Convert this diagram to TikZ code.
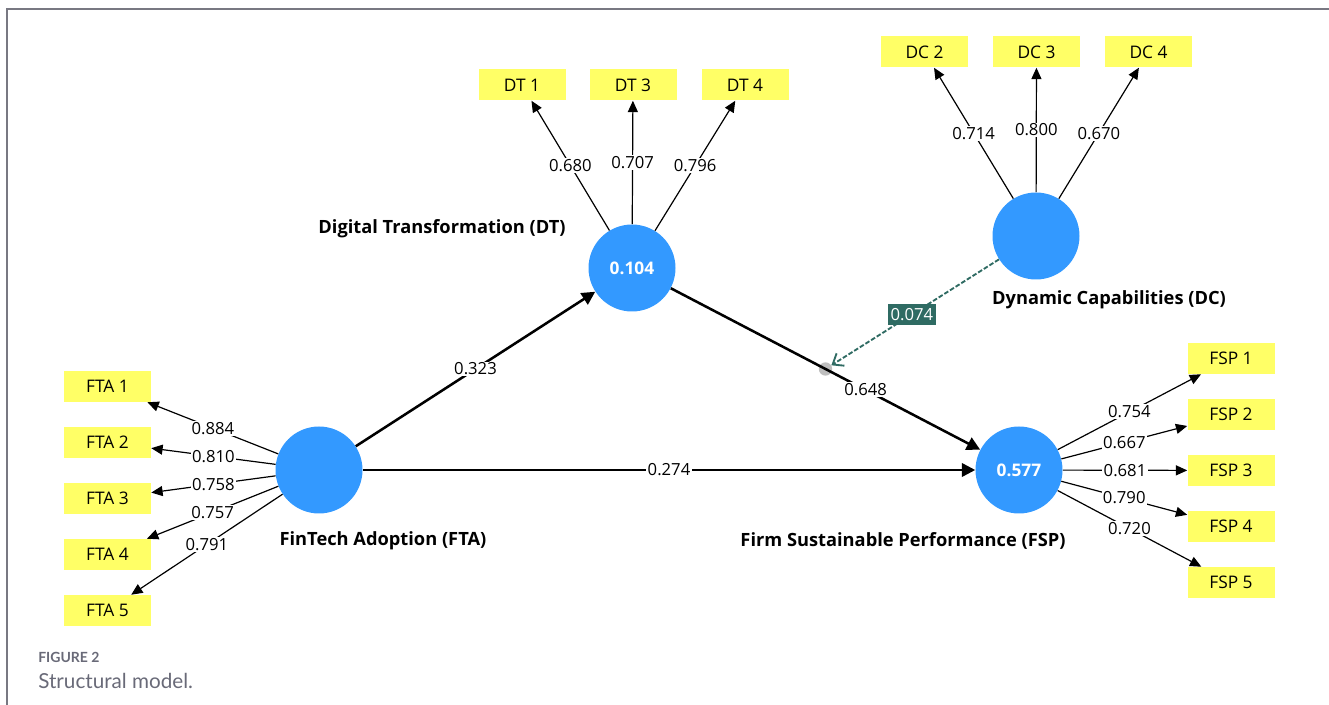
\documentclass[tikz,border=0pt]{standalone}
\usepackage{fontspec}
\setmainfont{Open Sans}
\newfontfamily\capfont{Lato}
\usetikzlibrary{arrows.meta,calc}
\definecolor{lvblue}{RGB}{51,153,255}
\definecolor{indyellow}{RGB}{255,255,102}
\definecolor{modteal}{RGB}{47,107,99}
\definecolor{framegray}{RGB}{120,120,130}
\definecolor{capgray}{RGB}{105,106,120}
\definecolor{dotgray}{RGB}{190,190,190}
\begin{document}
\begin{tikzpicture}[x=0.75pt,y=-0.75pt,
  lv/.style={circle,fill=lvblue,minimum size=65.25pt,inner sep=0pt,text=white,
    font=\fontsize{13}{15}\selectfont\bfseries},
  ind/.style={rectangle,fill=indyellow,minimum width=65.25pt,minimum height=23.25pt,
    inner sep=0pt,font=\fontsize{13}{15}\selectfont},
  lvname/.style={inner sep=0pt,font=\fontsize{13.7}{16}\selectfont\bfseries},
  load/.style={line width=0.9pt,-{Triangle[length=8.5pt,width=7.5pt]}},
  struct/.style={line width=1.9pt,-{Triangle[length=10pt,width=10pt]}},
  wt/.style={fill=white,inner sep=1pt,font=\fontsize{12.5}{14}\selectfont},
  modlabel/.style={fill=modteal,text=white,inner xsep=2.2pt,inner ysep=3.5pt,
    font=\fontsize{12.5}{14}\selectfont},
  modedge/.style={modteal,line width=1.4pt,dash pattern=on 3.5pt off 1.5pt,
    -{Straight Barb[length=7pt,width=11pt]}},
  moddot/.style={circle,fill=dotgray,minimum size=10pt,inner sep=0pt},
  capstyle/.style={anchor=west,inner sep=0pt,text=capgray}
]
\useasboundingbox (0,0) rectangle (1329,705);
\draw[framegray,line width=1.1pt] (7,705) -- (7,9) -- (1329,9);

% latent variables
\node[lv] (dt)  at (632,268)  {0.104};
\node[lv] (dc)  at (1036,236) {};
\node[lv] (fta) at (319,470)  {};
\node[lv] (fsp) at (1019,470) {0.577};

\node[lvname] (dtname)  at (442,229)  {Digital Transformation (DT)};
\node[lvname] (dcname)  at (1109,300) {Dynamic Capabilities (DC)};
\node[lvname] (ftaname) at (383,541)  {FinTech Adoption (FTA)};
\node[lvname] (fspname) at (903,541)  {Firm Sustainable Performance (FSP)};

% indicators
\node[ind] (dt1) at (522,85) {DT 1};
\node[ind] (dt3) at (633,85) {DT 3};
\node[ind] (dt4) at (745,85) {DT 4};
\node[ind] (dc2) at (924.5,52)  {DC 2};
\node[ind] (dc3) at (1036.5,52) {DC 3};
\node[ind] (dc4) at (1148.5,52) {DC 4};
\node[ind] (fta1) at (107.5,386.5) {FTA 1};
\node[ind] (fta2) at (107.5,442.5) {FTA 2};
\node[ind] (fta3) at (107.5,498.5) {FTA 3};
\node[ind] (fta4) at (107.5,554.5) {FTA 4};
\node[ind] (fta5) at (107.5,610.5) {FTA 5};
\node[ind] (fsp1) at (1231,358.5) {FSP 1};
\node[ind] (fsp2) at (1231,414.5) {FSP 2};
\node[ind] (fsp3) at (1231,470.5) {FSP 3};
\node[ind] (fsp4) at (1231,526.5) {FSP 4};
\node[ind] (fsp5) at (1231,582.5) {FSP 5};

% outer loadings
\draw[load] (dt) -- node[wt] {0.680} (dt1);
\draw[load] (dt) -- node[wt] {0.707} (dt3);
\draw[load] (dt) -- node[wt] {0.796} (dt4);
\draw[load] (dc) -- node[wt] {0.714} (dc2);
\draw[load] (dc) -- node[wt] {0.800} (dc3);
\draw[load] (dc) -- node[wt] {0.670} (dc4);
\draw[load] (fta) -- node[wt] {0.884} (fta1);
\draw[load] (fta) -- node[wt] {0.810} (fta2);
\draw[load] (fta) -- node[wt] {0.758} (fta3);
\draw[load] (fta) -- node[wt] {0.757} (fta4);
\draw[load] (fta) -- node[wt] {0.791} (fta5);
\draw[load] (fsp) -- node[wt] {0.754} (fsp1);
\draw[load] (fsp) -- node[wt] {0.667} (fsp2);
\draw[load] (fsp) -- node[wt] {0.681} (fsp3);
\draw[load] (fsp) -- node[wt] {0.790} (fsp4);
\draw[load] (fsp) -- node[wt] {0.720} (fsp5);

% structural paths
\draw[struct] (fta) -- node[wt] {0.323} (dt);
\draw[struct] (fta) -- node[wt] {0.274} (fsp);
\node[moddot] (mod) at ($(dt)!0.5!(fsp)$) {};
\draw[struct] (dt) -- node[wt,pos=0.63] {0.648} (fsp);

% moderating effect
\draw[modedge] (dc) -- node[modlabel,pos=0.52] {0.074} (mod);

% caption
\node[capstyle,font=\capfont\fontsize{10.5}{12}\selectfont\bfseries] (figno) at (38,657) {FIGURE 2};
\node[capstyle,font=\capfont\fontsize{15.5}{18}\selectfont] (figcap) at (38,681) {Structural model.};
\end{tikzpicture}
\end{document}
